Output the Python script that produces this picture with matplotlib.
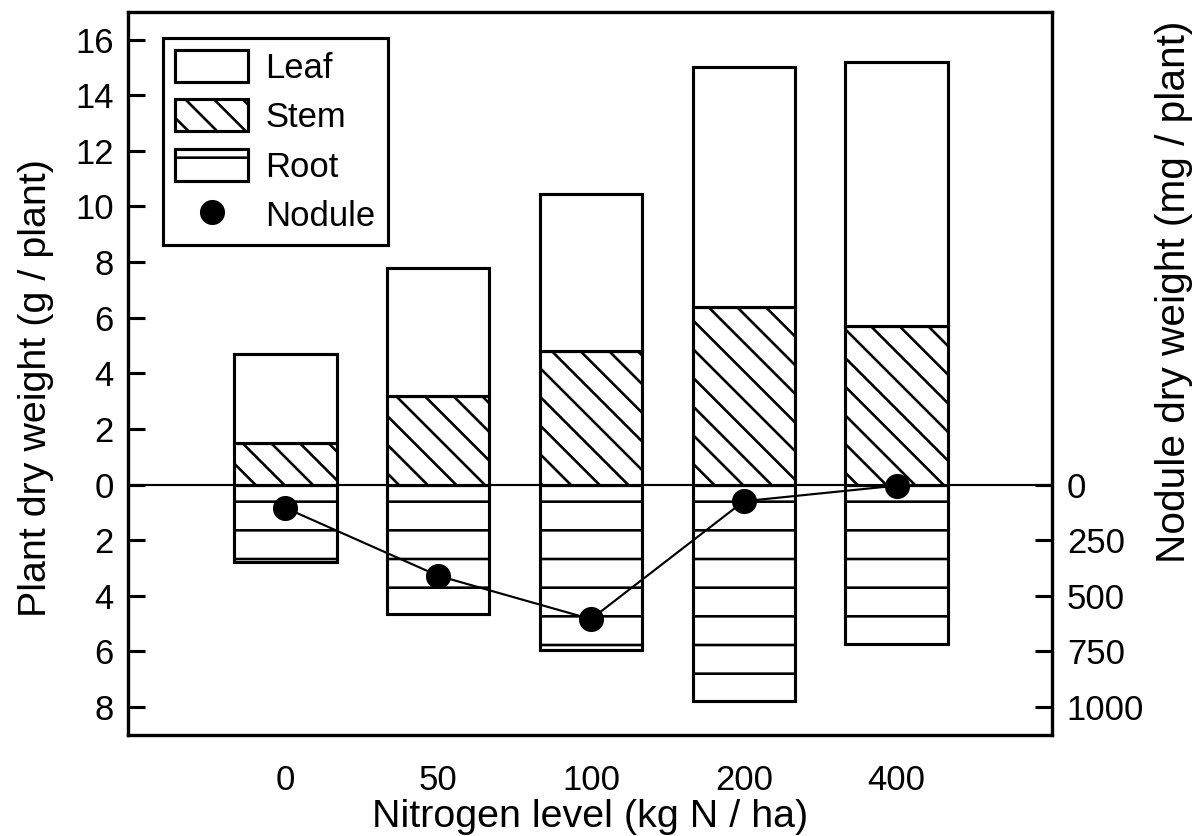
import matplotlib.pyplot as plt
from matplotlib.lines import Line2D
import numpy as np

plt.rcParams['font.family'] = ['Liberation Sans', 'DejaVu Sans']
plt.rcParams['hatch.linewidth'] = 1.1

# data
levels = ['0', '50', '100', '200', '400']
stem = [1.5, 3.2, 4.8, 6.4, 5.7]          # g/plant
leaf = [3.2, 4.6, 5.65, 8.6, 9.5]         # g/plant, stacked on stem
root = [2.8, 4.65, 5.95, 7.8, 5.75]       # g/plant, drawn downwards
nodule = [105, 410, 605, 75, 5]           # mg/plant

x = np.arange(len(levels))
w = 0.67
lw = 1.3

fig = plt.figure(figsize=(1196 / 172, 836 / 172), dpi=172)
ax = fig.add_axes([0.107, 0.121, 0.773, 0.865])

ax.axhline(0, color='black', lw=0.9, zorder=1)
b_root = ax.bar(x, -np.array(root), w, color='white', edgecolor='black',
                hatch='-', lw=lw, zorder=2, label='Root')
b_stem = ax.bar(x, stem, w, color='white', edgecolor='black',
                hatch='\\\\', lw=lw, zorder=2, label='Stem')
b_leaf = ax.bar(x, leaf, w, bottom=stem, color='white', edgecolor='black',
                lw=lw, zorder=2, label='Leaf')

ax.set_xlim(-1.03, 5.02)
ax.set_ylim(-9, 17)
yt = np.arange(-8, 17, 2)
ax.set_yticks(yt)
ax.set_yticklabels([str(abs(v)) for v in yt])
ax.set_xticks(x)
ax.set_xticklabels(levels)
ax.tick_params(axis='y', direction='in', length=7, width=1.3, labelsize=14.5, pad=6)
ax.tick_params(axis='x', length=0, labelsize=14.5, pad=12)
for s in ax.spines.values():
    s.set_linewidth(1.4)
ax.set_xlabel('Nitrogen level (kg N / ha)', fontsize=16.5, labelpad=1)
ax.set_ylabel('Plant dry weight (g / plant)', fontsize=16.5)
ax.yaxis.set_label_coords(-0.08, 0.48)

# nodule weight on right axis (mg), 0 aligned with zero line, pointing down
ax2 = ax.twinx()
ax2.set_ylim(9 * 125, -17 * 125)
ax2.set_yticks([0, 250, 500, 750, 1000])
ax2.tick_params(axis='y', direction='in', length=7, width=1.3, labelsize=14.5, pad=6)
ax2.plot(x, nodule, color='black', lw=0.9, marker='o', markersize=9.5, zorder=5)
ax2.set_ylabel('Nodule dry weight (mg / plant)', fontsize=17)
ax2.yaxis.set_label_coords(1.111, 0.613)

handles = [b_leaf, b_stem, b_root,
           Line2D([], [], ls='none', marker='o', color='black', markersize=9.5)]
leg = ax2.legend(handles, ['Leaf', 'Stem', 'Root', 'Nodule'], loc='upper left',
                 bbox_to_anchor=(0.038, 0.964), borderaxespad=0, fontsize=14.5,
                 handlelength=2.1, handleheight=1.05, labelspacing=0.42,
                 handletextpad=0.5, borderpad=0.35, fancybox=False, framealpha=1)
leg.get_frame().set_edgecolor('black')
leg.get_frame().set_linewidth(1.3)

fig.savefig('out.png', dpi=172)
